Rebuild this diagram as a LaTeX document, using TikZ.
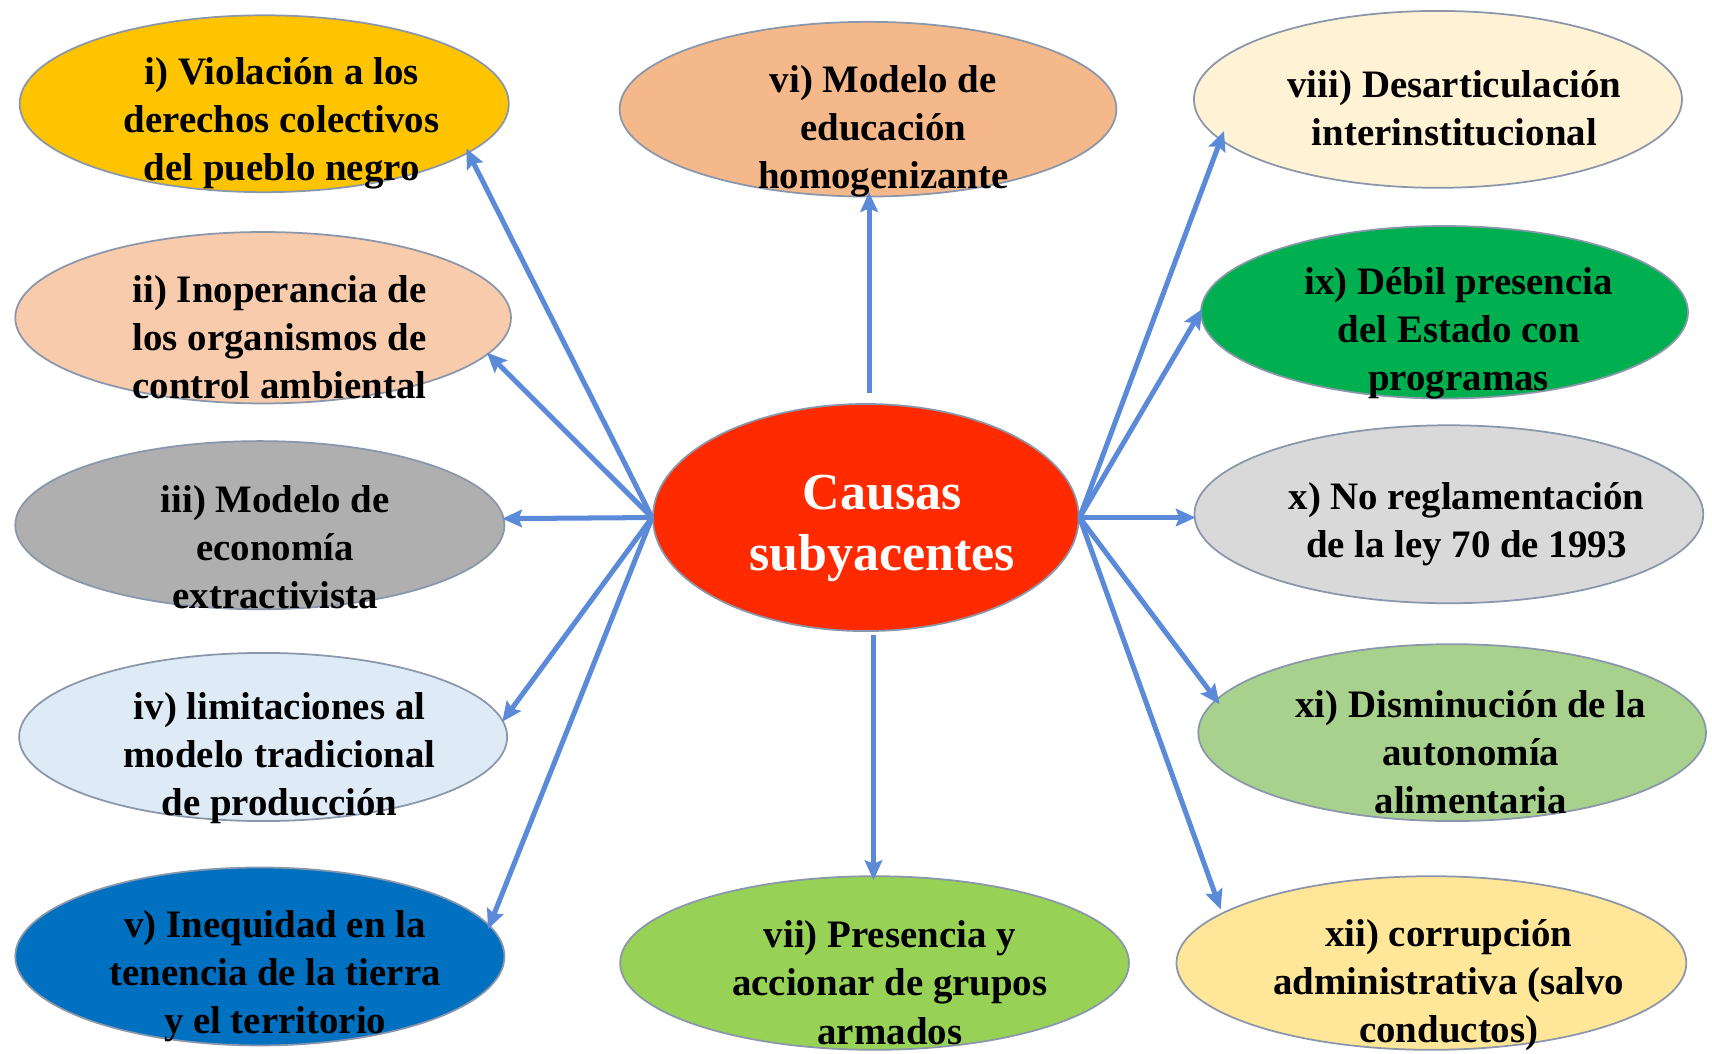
\documentclass[tikz,border=0pt]{standalone}
\usepackage{fontspec}
\setmainfont{Liberation Serif}
\usetikzlibrary{arrows.meta,shapes.geometric}
\definecolor{ovalline}{HTML}{8A96AA}
\definecolor{arrowblue}{HTML}{5A8AD8}
\definecolor{cI}{HTML}{FFC400}
\definecolor{cII}{HTML}{F8CBAD}
\definecolor{cIII}{HTML}{AFAFAF}
\definecolor{cIV}{HTML}{DEEBF7}
\definecolor{cV}{HTML}{0070C0}
\definecolor{cVI}{HTML}{F4B88A}
\definecolor{cCen}{HTML}{FF2A00}
\definecolor{cVII}{HTML}{97D257}
\definecolor{cVIII}{HTML}{FFF2D5}
\definecolor{cIX}{HTML}{00B050}
\definecolor{cX}{HTML}{D9D9D9}
\definecolor{cXI}{HTML}{A9D18E}
\definecolor{cXII}{HTML}{FFE699}
\begin{document}
\begin{tikzpicture}[x=0.5pt,y=-0.5pt,
  oval/.style={ellipse, draw=ovalline, line width=0.8pt, inner sep=0pt},
  lab/.style={align=center, font=\fontsize{17.8}{22}\selectfont\bfseries, inner sep=0pt, text=black},
  biglab/.style={align=center, font=\fontsize{23.8}{28}\selectfont\bfseries, inner sep=0pt, text=white},
  arr/.style={draw=arrowblue, line width=2.3pt, -{Stealth[length=9pt,width=8pt,inset=1.5pt]}}]
\useasboundingbox[fill=white] (0,0) rectangle (1568,965);
% ellipses
\node[oval, fill=cI,    minimum width=224pt,   minimum height=81pt]   (e1)  at (242,95)  {};
\node[oval, fill=cII,   minimum width=227pt,   minimum height=78.5pt] (e2)  at (241,291) {};
\node[oval, fill=cIII,  minimum width=224pt,   minimum height=77pt]   (e3)  at (238,481) {};
\node[oval, fill=cIV,   minimum width=223.5pt, minimum height=77pt]   (e4)  at (241,675) {};
\node[oval, fill=cV,    minimum width=224pt,   minimum height=81.5pt] (e5)  at (238,876) {};
\node[oval, fill=cVI,   minimum width=227.5pt, minimum height=80pt]   (e6)  at (795,100) {};
\node[oval, fill=cCen,  minimum width=195pt,   minimum height=104pt]  (c)   at (793,474) {};
\node[oval, fill=cVII,  minimum width=233pt,   minimum height=79.5pt] (e7)  at (801,882) {};
\node[oval, fill=cVIII, minimum width=223.5pt, minimum height=81pt]   (e8)  at (1317,91) {};
\node[oval, fill=cIX,   minimum width=223pt,   minimum height=79pt]   (e9)  at (1323,286) {};
\node[oval, fill=cX,    minimum width=233pt,   minimum height=81.5pt] (e10) at (1327,471) {};
\node[oval, fill=cXI,   minimum width=232.5pt, minimum height=81pt]   (e11) at (1330,671) {};
\node[oval, fill=cXII,  minimum width=233.5pt, minimum height=79.5pt] (e12) at (1311,882) {};
% arrow end points
\coordinate (p1) at (427,136);
\coordinate (p2) at (446,323);
\coordinate (p3) at (460,475);
\coordinate (p4) at (460,661);
\coordinate (p5) at (447,851);
\coordinate (p8) at (1121,120);
\coordinate (p9) at (1101,283);
\coordinate (p10) at (1095,474);
\coordinate (p11) at (1117,645);
\coordinate (p12) at (1118,833);
\coordinate (up0) at (796,360);
\coordinate (p6) at (796,176);
\coordinate (dn0) at (800,582);
\coordinate (p7) at (800,806);
% arrows
\foreach \t in {p1,p2,p3,p4,p5} \draw[arr] (c.west) -- (\t);
\foreach \t in {p8,p9,p10,p11,p12} \draw[arr] (c.east) -- (\t);
\draw[arr] (up0) -- (p6);
\draw[arr] (dn0) -- (p7);
% texts
\node[lab] (t1) at (258,113) {i) Violación a los\\derechos colectivos\\del pueblo negro};
\node[lab] (t2) at (256,309) {ii) Inoperancia de\\los organismos de\\control ambiental};
\node[lab] (t3) at (252,501) {iii) Modelo de\\economía\\extractivista};
\node[lab] (t4) at (256,694) {iv) limitaciones al\\modelo tradicional\\de producción};
\node[lab] (t5) at (252,894) {v) Inequidad en la\\tenencia de la tierra\\y el territorio};
\node[lab] (t6) at (809,120) {vi) Modelo de\\educación\\homogenizante};
\node[biglab] (tc) at (808,484) {Causas\\subyacentes};
\node[lab] (t7) at (815,900) {vii) Presencia y\\accionar de grupos\\armados};
\node[lab] (t8) at (1332,99) {viii) Desarticulación\\interinstitucional};
\node[lab] (t9) at (1336,305) {ix) Débil presencia\\del Estado con\\programas};
\node[lab] (t10) at (1343,480) {x) No reglamentación\\de la ley 70 de 1993};
\node[lab] (t11) at (1347,689) {xi) Disminución de la\\autonomía\\alimentaria};
\node[lab] (t12) at (1327,902) {xii) corrupción\\administrativa (salvo\\conductos)};
\end{tikzpicture}
\end{document}
